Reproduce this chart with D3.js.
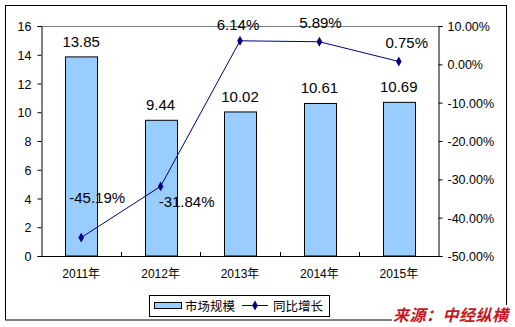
<!DOCTYPE html>
<html><head><meta charset="utf-8">
<script src="https://cdn.jsdelivr.net/npm/d3@7/dist/d3.min.js"></script>
<style>
html,body{margin:0;padding:0;background:#fff;}
svg{display:block;}
text{font-family:"Liberation Sans",Arial,"Noto Sans CJK SC",sans-serif;}
</style></head><body>
<svg id="c" width="515" height="327"></svg>
<script>
const categories = ["2011年","2012年","2013年","2014年","2015年"];
const marketSize = [13.85, 9.44, 10.02, 10.61, 10.69];
const growth = [-45.19, -31.84, 6.14, 5.89, 0.75];
const leftTicks = [0,2,4,6,8,10,12,14,16];
const rightTicks = [-50,-40,-30,-20,-10,0,10];
const seriesNames = ["市场规模","同比增长"];
const sourceText = "来源：中经纵横";
// manual label offsets (layout, as placed in the original)
const pctLabelOffsets = [[16,-35],[26,21],[-2,-11],[1,-14],[8,-13]];

const svg = d3.select("#c");
const L = 41.5, R = 438.5, T = 26, B = 256;

// outer border
svg.append("rect").attr("x",5.5).attr("y",5.5).attr("width",501).attr("height",314.5)
  .attr("fill","none").attr("stroke","#000").attr("stroke-width",1);

const x = d3.scaleBand().domain(categories).range([L,R]).paddingInner(0.6).paddingOuter(0.3);
const xc = d3.scalePoint().domain(categories).range([L,R]).padding(0.5);
const yL = d3.scaleLinear().domain([0,16]).range([B,T]);
const yR = d3.scaleLinear().domain([-50,10]).range([B,T]);

// top gray line
svg.append("line").attr("x1",L).attr("x2",R).attr("y1",T+0.5).attr("y2",T+0.5)
  .attr("stroke","#808080");

// bars
svg.selectAll("rect.bar").data(marketSize).enter().append("rect").attr("class","bar")
  .attr("x",(d,i)=>Math.round(x(categories[i]))+0.5)
  .attr("width",Math.round(x.bandwidth()))
  .attr("y",d=>yL(d)).attr("height",d=>B-yL(d))
  .attr("fill","#99CCFF").attr("stroke","#000").attr("stroke-width",1);

// axes
const axL = d3.axisLeft(yL).tickValues(leftTicks).tickSize(4).tickFormat(d3.format("d"));
const gL = svg.append("g").attr("transform",`translate(${L},0)`).call(axL);
const axR = d3.axisRight(yR).tickValues(rightTicks).tickSize(4).tickFormat(d=>d.toFixed(2)+"%");
const gR = svg.append("g").attr("transform",`translate(${R},0)`).call(axR);
const axB = d3.axisBottom(x).tickSize(0);
const gB = svg.append("g").attr("transform",`translate(0,${B})`).call(axB);
[gL,gR,gB].forEach(g=>{
  g.select(".domain").attr("stroke","#000");
  g.selectAll(".tick line").attr("stroke","#000");
  g.selectAll("text").attr("fill","#000").style("font-size","12.5px");
});
gL.selectAll("text").attr("x",-10).attr("dy","0.36em");
gR.selectAll("text").attr("x",9).attr("dy","0.36em");
gB.selectAll("text").attr("dy",0).attr("y",22).style("font-size","12px");
// category boundary inner ticks
const bounds = d3.range(1,categories.length).map(i=>L+(R-L)*i/categories.length);
svg.selectAll("line.ct").data(bounds).enter().append("line")
  .attr("x1",d=>Math.round(d)+0.5).attr("x2",d=>Math.round(d)+0.5)
  .attr("y1",B-4).attr("y2",B).attr("stroke","#000");

// bar labels
svg.selectAll("text.bl").data(marketSize).enter().append("text")
  .attr("x",(d,i)=>xc(categories[i])).attr("y",d=>yL(d)-10)
  .attr("text-anchor","middle").style("font-size","15px").attr("fill","#000")
  .text(d=>d.toFixed(2));

// line
const line = d3.line().x((d,i)=>xc(categories[i])).y(d=>yR(d));
svg.append("path").datum(growth).attr("d",line).attr("fill","none")
  .attr("stroke","#000080").attr("stroke-width",1);
const diamond = d3.symbol().type(d3.symbolDiamond).size(28);
svg.selectAll("path.m").data(growth).enter().append("path")
  .attr("transform",(d,i)=>`translate(${xc(categories[i])},${yR(d)})`)
  .attr("d",diamond).attr("fill","#000080");
svg.selectAll("text.pl").data(growth).enter().append("text")
  .attr("x",(d,i)=>xc(categories[i])+pctLabelOffsets[i][0])
  .attr("y",(d,i)=>yR(d)+pctLabelOffsets[i][1])
  .attr("text-anchor","middle").style("font-size","15px").attr("fill","#000")
  .text(d=>d.toFixed(2)+"%");

// legend
const lg = svg.append("g");
lg.append("rect").attr("x",149.5).attr("y",295.5).attr("width",180).attr("height",21)
  .attr("fill","#fff").attr("stroke","#000");
lg.append("rect").attr("x",154.5).attr("y",302.5).attr("width",27).attr("height",6)
  .attr("fill","#99CCFF").attr("stroke","#000");
lg.append("text").attr("x",185).attr("y",311).style("font-size","12.5px")
  .style("font-family","'Noto Sans CJK SC',sans-serif").attr("fill","#000").text(seriesNames[0]);
lg.append("line").attr("x1",242).attr("x2",268).attr("y1",305.5).attr("y2",305.5).attr("stroke","#000080");
lg.append("path").attr("transform","translate(255,305.5)").attr("d",diamond).attr("fill","#000080");
lg.append("text").attr("x",273).attr("y",311).style("font-size","12.5px")
  .style("font-family","'Noto Sans CJK SC',sans-serif").attr("fill","#000").text(seriesNames[1]);

// source
svg.append("rect").attr("x",392).attr("y",305).attr("width",123).attr("height",22).attr("fill","#fff");
svg.append("line").attr("x1",392).attr("x2",392).attr("y1",319).attr("y2",321).attr("stroke","none");
svg.append("text").attr("x",393).attr("y",321).style("font-size","16px").style("font-weight","bold")
  .style("font-style","italic").style("font-family","'Noto Sans CJK SC',sans-serif")
  .attr("fill","#C8161D").attr("textLength",115).text(sourceText);
</script>
</body></html>
